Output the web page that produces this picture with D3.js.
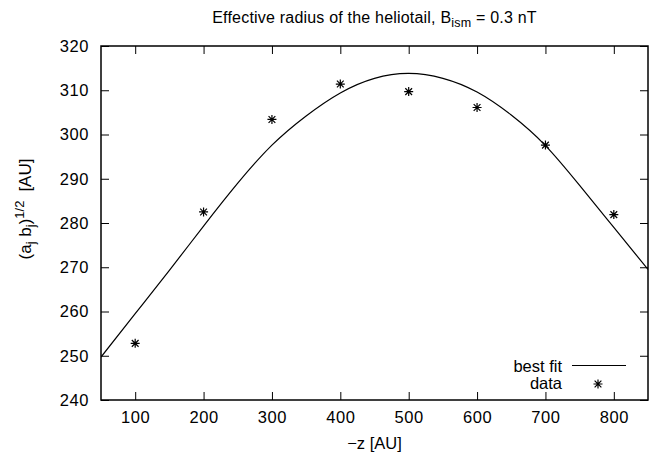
<!DOCTYPE html>
<html>
<head>
<meta charset="utf-8">
<script src="https://cdn.jsdelivr.net/npm/d3@7"></script>
<style>
  body { margin: 0; background: #fff; }
  svg { display: block; }
  text { font-family: "Liberation Sans", Arial, Helvetica, sans-serif; fill: #000; }
</style>
</head>
<body>
<svg id="chart" width="662" height="460"></svg>
<script>
// ---- data ----
const dataX = [100, 200, 300, 400, 500, 600, 700, 800];
const dataY = [252.8, 282.5, 303.4, 311.4, 309.7, 306.1, 297.6, 281.9];
const fitX = [50, 100, 150, 200, 250, 300, 350, 400, 450, 500, 550, 600, 650, 700, 750, 800, 850];
const fitY = [249.7, 259.5, 269.3, 279.3, 289.0, 297.6, 304.2, 309.4, 312.7, 313.8, 312.7, 309.6, 304.4, 297.5, 288.5, 279.0, 269.5];
const xTicks = [100, 200, 300, 400, 500, 600, 700, 800];
const yTicks = [240, 250, 260, 270, 280, 290, 300, 310, 320];
const titleMain = "Effective radius of the heliotail, B";
const titleSub = "ism";
const titleTail = " = 0.3 nT";
const xLabel = "\u2212z [AU]";
const legendLabels = ["best fit", "data"];

// ---- layout ----
const svg = d3.select("#chart");
const L = 101, R = 648, T = 46, B = 400;
const x = d3.scaleLinear().domain([50, 850]).range([L, R]);
const y = d3.scaleLinear().domain([240, 320]).range([B, T]);
const fs = 16.5;
const tick = 8;

// axes with inward ticks
const gx = svg.append("g").attr("transform", `translate(0,${B})`)
  .call(d3.axisBottom(x).tickValues(xTicks).tickSize(-tick).tickPadding(11).tickFormat(d3.format("d")));
const gxt = svg.append("g").attr("transform", `translate(0,${T})`)
  .call(d3.axisTop(x).tickValues(xTicks).tickSize(-tick).tickFormat(""));
const gy = svg.append("g").attr("transform", `translate(${L},0)`)
  .call(d3.axisLeft(y).tickValues(yTicks).tickSize(-tick).tickPadding(12).tickFormat(d3.format("d")));
const gyr = svg.append("g").attr("transform", `translate(${R},0)`)
  .call(d3.axisRight(y).tickValues(yTicks).tickSize(-tick).tickFormat(""));
[gx, gxt, gy, gyr].forEach(g => {
  g.select(".domain").remove();
  g.selectAll("line").attr("stroke", "#000").attr("stroke-width", 1);
  g.selectAll("text").attr("font-size", fs).attr("font-family", null)
    .style("font-family", '"Liberation Sans", Arial, sans-serif').style("letter-spacing", "0.6px");
});

// frame
svg.append("rect").attr("x", L).attr("y", T).attr("width", R - L).attr("height", B - T)
  .attr("fill", "none").attr("stroke", "#000").attr("stroke-width", 1.5);

// fit line
svg.append("clipPath").attr("id", "clip").append("rect")
  .attr("x", L).attr("y", T).attr("width", R - L).attr("height", B - T);
const line = d3.line().x((d, i) => x(fitX[i])).y(d => y(d)).curve(d3.curveNatural);
svg.append("path").attr("d", line(fitY)).attr("fill", "none").attr("stroke", "#000")
  .attr("stroke-width", 1.2).attr("clip-path", "url(#clip)");

// star markers
function star(g, cx, cy, r) {
  const d = `M${cx - r},${cy}H${cx + r}M${cx},${cy - r}V${cy + r}` +
    `M${cx - r * 0.75},${cy - r * 0.75}L${cx + r * 0.75},${cy + r * 0.75}` +
    `M${cx - r * 0.75},${cy + r * 0.75}L${cx + r * 0.75},${cy - r * 0.75}`;
  g.append("path").attr("d", d).attr("stroke", "#000").attr("stroke-width", 1.2).attr("fill", "none");
}
const pts = svg.append("g");
dataX.forEach((dx, i) => star(pts, x(dx), y(dataY[i]), 4.5));

// title
const title = svg.append("text").attr("x", (L + R) / 2).attr("y", 23).attr("text-anchor", "middle")
  .attr("font-size", 16).style("letter-spacing", "0.2px");
title.append("tspan").text(titleMain);
title.append("tspan").attr("dy", 4).attr("font-size", 12.5).text(titleSub);
title.append("tspan").attr("dy", -4).text(titleTail);

// x label
svg.append("text").attr("x", (L + R) / 2).attr("y", 449).attr("text-anchor", "middle")
  .attr("font-size", fs).text(xLabel);

// y label
const yl = svg.append("text").attr("transform", `translate(31,209) rotate(-90)`)
  .attr("text-anchor", "middle").attr("font-size", 17);
yl.append("tspan").text("(a");
yl.append("tspan").attr("dy", 4).attr("font-size", 13).text("j");
yl.append("tspan").attr("dy", -4).text(" b");
yl.append("tspan").attr("dy", 4).attr("font-size", 13).text("j");
yl.append("tspan").attr("dy", -4).text(")");
yl.append("tspan").attr("dy", -7).attr("font-size", 13).text("1/2");
yl.append("tspan").attr("dy", 7).attr("dx", 9).text("[AU]");

// legend
const lg = svg.append("g");
lg.append("text").attr("x", 562).attr("y", 371.5).attr("text-anchor", "end").attr("font-size", fs).text(legendLabels[0]);
lg.append("line").attr("x1", 572).attr("x2", 626).attr("y1", 365.5).attr("y2", 365.5)
  .attr("stroke", "#000").attr("stroke-width", 1.2);
lg.append("text").attr("x", 562).attr("y", 389).attr("text-anchor", "end").attr("font-size", fs).text(legendLabels[1]);
star(lg, 598, 384, 4.5);
</script>
</body>
</html>
